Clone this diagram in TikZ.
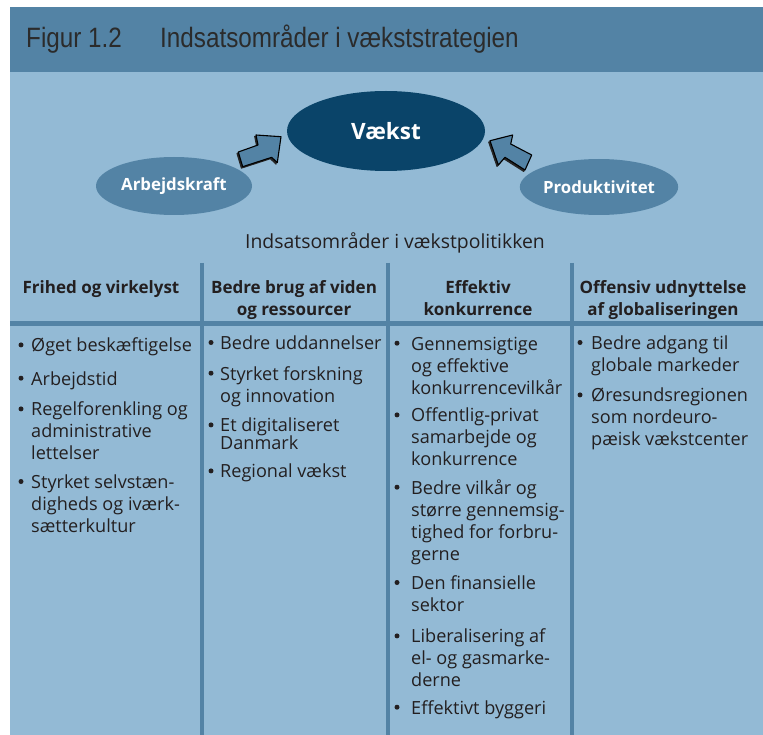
\documentclass[tikz,border=0pt]{standalone}
\usepackage{fontspec}
\setmainfont{Open Sans}
\newfontfamily\titlefont[FakeStretch=0.866]{Liberation Sans}
\usetikzlibrary{shapes.geometric}
\definecolor{hdr}{HTML}{5383A5}
\definecolor{bgc}{HTML}{93BAD5}
\definecolor{darkc}{HTML}{0A4469}
\definecolor{txt}{HTML}{231F20}
\definecolor{ttl}{HTML}{2B2B2B}
\tikzset{
  itemtext/.style={font=\fontsize{18.1}{22}\selectfont, text=txt, inner sep=0pt, anchor=base west},
  headtext/.style={font=\bfseries\fontsize{17}{22}\selectfont, text=txt, inner sep=0pt, anchor=base},
  titletext/.style={font=\titlefont\fontsize{28}{30}\selectfont, text=ttl, inner sep=0pt, anchor=base west},
  divider/.style={draw=hdr, line width=4pt},
  bigell/.style={ellipse, fill=darkc, text=white, inner sep=0pt, font=\bfseries\fontsize{22.5}{24}\selectfont},
  smallell/.style={ellipse, fill=hdr, text=white, inner sep=0pt, font=\bfseries\fontsize{16.8}{20}\selectfont},
  blockarrow/.style={fill=hdr, draw=black, line width=1.1pt, line join=round},
  arrowshadow/.style={fill=black!85, draw=black!85, line width=1.1pt, line join=round},
}
\newcommand{\bitem}[5]{%
  \node[itemtext] (#1) at (#3,#4) {\begin{tabular}[t]{@{}l@{}}#5\end{tabular}};
  \fill[txt] (#2,#4-6.8) circle (2.5);
}
\newcommand{\colhead}[3]{%
  \node[headtext] (#1) at #2 {\begin{tabular}[t]{@{}c@{}}#3\end{tabular}};
}
\begin{document}
\begin{tikzpicture}[x=1pt,y=-1pt]
\useasboundingbox (0,0) rectangle (763,735);
\fill[white] (0,0) rectangle (763,735);
% panels
\fill[bgc] (10,7) rectangle (763,735);
\fill[hdr] (10,7) rectangle (763,72);
% title
\node[titletext] (fig) at (26,48) {Figur 1.2};
\node[titletext] (ttl) at (160,48) {Indsatsområder i vækststrategien};
% ellipses
\node[bigell, minimum width=198pt, minimum height=80pt] (vaekst) at (386,131) {Vækst};
\node[smallell, minimum width=156pt, minimum height=58pt] (arb) at (174,186) {Arbejdskraft};
\node[smallell, minimum width=156pt, minimum height=56pt] (prod) at (599,187) {Produktivitet};
% block arrows
\begin{scope}[shift={(-1.3,1.4)}]
\draw[arrowshadow] (281,136.7) -- (256,135) -- (258,145) -- (238.3,152) -- (242.7,166.7) -- (271.7,157.3) -- (277.3,162.7) -- cycle;
\draw[arrowshadow] (490,140.7) -- (512.7,135) -- (510.7,144) -- (531.7,155) -- (525,170) -- (505,157.3) -- (498.3,165) -- cycle;
\end{scope}
\draw[blockarrow] (281,136.7) -- (256,135) -- (258,145) -- (238.3,152) -- (242.7,166.7) -- (271.7,157.3) -- (277.3,162.7) -- cycle;
\draw[blockarrow] (490,140.7) -- (512.7,135) -- (510.7,144) -- (531.7,155) -- (525,170) -- (505,157.3) -- (498.3,165) -- cycle;
% subtitle
\node[font=\fontsize{19.4}{22}\selectfont, text=txt, inner sep=0pt, anchor=base] (sub) at (395,249) {Indsatsområder i vækstpolitikken};
% grid lines
\coordinate (h1) at (10,324);
\coordinate (h2) at (763,324);
\draw[draw=hdr, line width=5pt] (h1) -- (h2);
\coordinate (v1t) at (202,263); \coordinate (v1b) at (202,735);
\coordinate (v2t) at (387.5,263); \coordinate (v2b) at (387.5,735);
\coordinate (v3t) at (572,263); \coordinate (v3b) at (572,735);
\draw[divider] (v1t) -- (v1b);
\draw[divider] (v2t) -- (v2b);
\draw[divider] (v3t) -- (v3b);
% headers
\colhead{h-a}{(101,294)}{Frihed og virkelyst}
\colhead{h-b}{(294,294)}{Bedre brug af viden\\og ressourcer}
\colhead{h-c}{(478,294)}{Effektiv\\konkurrence}
\colhead{h-d}{(663,294)}{Offensiv udnyttelse\\af globaliseringen}
% column 1
\bitem{a1}{21}{31}{351.7}{Øget beskæftigelse}
\bitem{a2}{21}{31}{385}{Arbejdstid}
\bitem{a3}{21}{31}{415.7}{Regelforenkling og\\administrative\\lettelser}
\bitem{a4}{21}{31}{488.3}{Styrket selvstæn-\\digheds og iværk-\\sætterkultur}
% column 2
\bitem{b1}{211}{220}{349.3}{Bedre uddannelser}
\bitem{b2}{211}{220}{380}{Styrket forskning\\og innovation}
\bitem{b3}{211}{220}{431.7}{Et digitaliseret\\[-4pt]Danmark}
\bitem{b4}{211}{220}{477.7}{Regional vækst}
% column 3
\bitem{c1}{397}{411}{350}{Gennemsigtige\\og effektive\\konkurrencevilkår}
\bitem{c2}{397}{411}{421.7}{Offentlig-privat\\samarbejde og\\konkurrence}
\bitem{c3}{397}{411}{494}{Bedre vilkår og\\større gennemsig-\\tighed for forbru-\\gerne}
\bitem{c4}{397}{411}{589.3}{Den finansielle\\sektor}
\bitem{c5}{397}{411}{642.7}{Liberalisering af\\el- og gasmarke-\\derne}
\bitem{c6}{397}{411}{714}{Effektivt byggeri}
% column 4
\bitem{d1}{580}{591}{349.3}{Bedre adgang til\\globale markeder}
\bitem{d2}{580}{591}{401.7}{Øresundsregionen\\som nordeuro-\\pæisk vækstcenter}
\end{tikzpicture}
\end{document}
